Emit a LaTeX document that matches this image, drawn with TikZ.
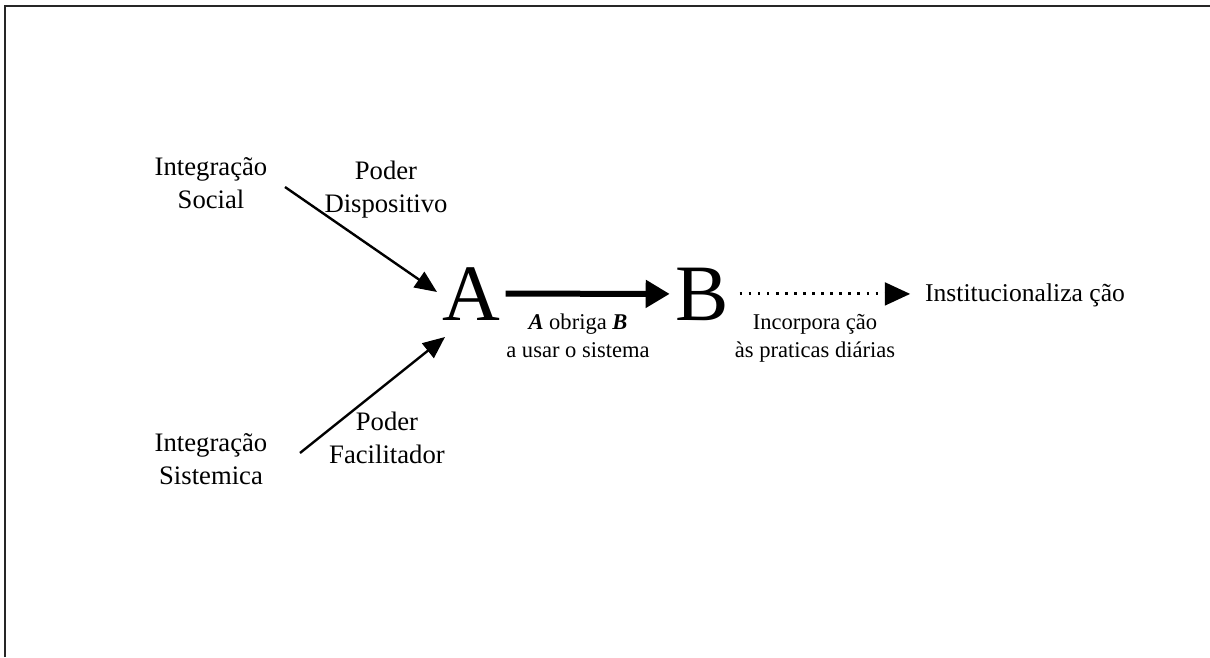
\documentclass[tikz,border=0pt]{standalone}
\usepackage{fontspec}
\setmainfont{Liberation Serif}
\usetikzlibrary{arrows.meta}
\begin{document}
\begin{tikzpicture}[x=0.75pt,y=-0.75pt,
  lbl/.style={font=\fontsize{20}{24.5}\selectfont, align=center, inner sep=0pt, anchor=base},
  sml/.style={font=\fontsize{16.9}{20.3}\selectfont, align=center, inner sep=0pt, anchor=base},
  big/.style={font=\fontsize{60}{60}\selectfont, inner sep=0pt, anchor=base},
  arr/.style={line width=1.8pt, -{Triangle[length=16.5pt,width=14pt]}},
  mainarr/.style={line width=4.5pt, -{Triangle[length=18pt,width=20pt]}},
  dotarr/.style={line width=2.2pt, dash pattern=on 2pt off 4.8pt, -{Triangle[length=19pt,width=17pt]}},
  frame/.style={line width=1.1pt, black!85}
]
\useasboundingbox (0,0) rectangle (1210,657);
\draw[frame] (5,657) -- (5,6) -- (1210,6);

\node[lbl] (is) at (211,208) {Integração\\Social};
\node[lbl] (pd) at (386,212) {Poder\\Dispositivo};
\node[lbl] (ism) at (211,484) {Integração\\Sistemica};
\node[lbl] (pf) at (387,463) {Poder\\Facilitador};
\node[big] (A) at (471.5,320) {A};
\node[big] (B) at (702,320) {B};
\node[lbl, font=\fontsize{19.2}{23}\selectfont] (inst) at (1025,301) {Institucionaliza ção};
\node[sml] (l1) at (578,357) {\textbf{\textit{A}} obriga \textbf{\textit{B}}\\a usar o sistema};
\node[sml] (l2) at (815,357) {Incorpora ção\\às praticas diárias};

\coordinate (s1) at (285,187);
\coordinate (e1) at (437,292);
\coordinate (s2) at (300,453);
\coordinate (e2) at (445,337);
\draw[arr] (s1) -- (e1);
\draw[arr] (s2) -- (e2);

\draw[mainarr, shorten <=3.75pt, shorten >=4pt] (A.east) -- (B.west);
\draw[dotarr, shorten <=8pt, shorten >=11pt] (B.east) -- (B.east -| inst.west);
\end{tikzpicture}
\end{document}
